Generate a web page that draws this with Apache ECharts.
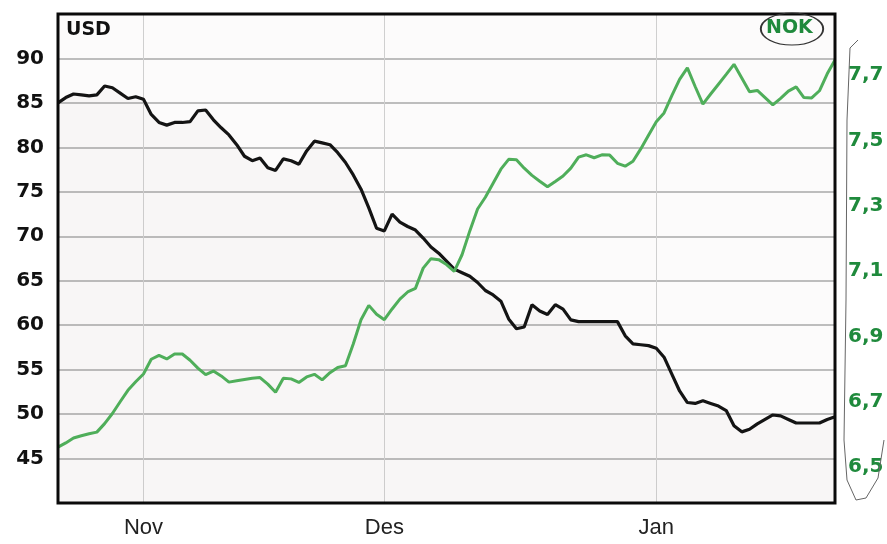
<!DOCTYPE html>
<html>
<head>
<meta charset="utf-8">
<script src="https://cdn.jsdelivr.net/npm/echarts@6/dist/echarts.min.js"></script>
<style>
html,body{margin:0;padding:0;background:#fff;}
#c{width:887px;height:544px;}
</style>
</head>
<body>
<div id="c"></div>
<script>
// evenly spaced observations (index 0..100)
const usd = [85.0,85.6,86.0,85.9,85.8,85.9,86.9,86.7,86.1,85.5,85.7,85.4,83.7,82.8,82.5,82.8,82.8,82.9,84.1,84.2,
83.1,82.2,81.4,80.3,79.0,78.5,78.8,77.7,77.4,78.7,78.5,78.1,79.6,80.7,80.5,80.3,79.4,78.3,76.9,75.3,
73.2,70.9,70.6,72.5,71.6,71.1,70.7,69.8,68.8,68.1,67.2,66.3,65.9,65.5,64.8,63.9,63.4,62.7,60.7,59.6,
59.8,62.3,61.6,61.2,62.3,61.8,60.6,60.4,60.4,60.4,60.4,60.4,60.4,58.8,57.9,57.8,57.7,57.4,56.4,54.5,
52.6,51.3,51.2,51.5,51.2,50.9,50.4,48.7,48.0,48.3,48.9,49.4,49.9,49.8,49.4,49.0,49.0,49.0,49.0,49.4,49.7];
const nok = [6.561,6.574,6.589,6.596,6.602,6.607,6.633,6.664,6.700,6.735,6.761,6.785,6.830,6.842,6.831,6.846,6.846,6.827,6.803,6.783,
6.794,6.779,6.760,6.764,6.768,6.772,6.774,6.754,6.729,6.772,6.770,6.759,6.776,6.784,6.767,6.789,6.805,6.810,6.877,6.951,
6.995,6.968,6.951,6.984,7.014,7.036,7.047,7.109,7.138,7.135,7.120,7.099,7.150,7.223,7.290,7.326,7.369,7.412,7.442,7.441,
7.415,7.393,7.375,7.358,7.374,7.391,7.415,7.449,7.456,7.447,7.456,7.455,7.430,7.421,7.436,7.474,7.516,7.557,7.584,7.637,
7.687,7.722,7.665,7.611,7.642,7.672,7.702,7.733,7.691,7.649,7.653,7.631,7.609,7.629,7.651,7.664,7.631,7.630,7.652,7.704,7.746];
const monthLabels = {11:'Nov', 42:'Des', 77:'Jan'};
const usdTicks = [45,50,55,60,65,70,75,80,85,90];
const nokTicks = [6.5,6.7,6.9,7.1,7.3,7.5,7.7];

const cats = usd.map((_, i) => String(i));
const chart = echarts.init(document.getElementById('c'));
const green = '#4fae5a', greenTxt = '#1f8a3c';
chart.setOption({
  animation: false,
  backgroundColor: '#fff',
  grid: {left: 58, right: 52, top: 14, bottom: 41, show: true, borderColor: 'transparent', borderWidth: 0, backgroundColor: '#fcfbfb'},
  xAxis: {
    type: 'category', data: cats, boundaryGap: false,
    axisLine: {show: false}, axisTick: {show: false},
    axisLabel: {interval: (i) => monthLabels[i] !== undefined, formatter: (v, i) => monthLabels[i] || '',
      fontFamily: 'Liberation Sans', fontSize: 22, color: '#222', margin: 14},
    splitLine: {show: true, interval: (i) => monthLabels[i] !== undefined, lineStyle: {color: '#cfcfcf', width: 1}}
  },
  yAxis: [{
    type: 'value', min: 40, max: 95, interval: 5, position: 'left',
    axisLine: {show: false}, axisTick: {show: false},
    axisLabel: {formatter: (v) => usdTicks.includes(v) ? String(v) : '', fontFamily: 'DejaVu Sans', fontWeight: 'bold', fontSize: 20, color: '#111', margin: 14},
    splitLine: {show: true, showMinLine: false, showMaxLine: false, lineStyle: {color: '#a9a9a9', width: 1.6}}
  }, {
    type: 'value', min: 6.39, max: 7.887, position: 'right',
    axisLine: {show: false}, axisTick: {show: false},
    axisLabel: {customValues: nokTicks, formatter: (v) => v.toFixed(1).replace('.', ','), fontFamily: 'DejaVu Sans', fontWeight: 'bold', fontSize: 20, color: greenTxt, margin: 13},
    splitLine: {show: false}
  }],
  series: [{
    name: 'USD', type: 'line', data: usd, yAxisIndex: 0, symbol: 'none',
    lineStyle: {color: '#141414', width: 3.2}, itemStyle: {color: '#141414'},
    areaStyle: {color: 'rgba(170,140,140,0.06)'}
  }, {
    name: 'NOK', type: 'line', data: nok, yAxisIndex: 1, symbol: 'none',
    lineStyle: {color: green, width: 3}, itemStyle: {color: green}
  }],
  graphic: [
    {type: 'rect', z: 100, shape: {x: 58, y: 14, width: 777, height: 489}, style: {fill: 'none', stroke: '#0a0a0a', lineWidth: 3}},
    {type: 'text', x: 66, y: 21, z: 101, style: {text: 'USD', fontFamily: 'DejaVu Sans', fontWeight: 'bold', fontSize: 19, fill: '#111'}},
    {type: 'text', x: 766, y: 19, z: 101, style: {text: 'NOK', fontFamily: 'DejaVu Sans', fontWeight: 'bold', fontSize: 19, fill: greenTxt}},
    {type: 'circle', x: 792, y: 29, z: 101, scaleX: 1.95, shape: {cx: 0, cy: 0, r: 16}, style: {fill: 'none', stroke: '#333', lineWidth: 1}},
    {type: 'polyline', z: 101, shape: {points: [[858,40],[850,48],[847,120],[846,300],[844,440],[847,480],[856,500],[866,498],[878,478],[884,440]]},
      style: {fill: 'none', stroke: '#666', lineWidth: 1}}
  ]
});
</script>
</body>
</html>
